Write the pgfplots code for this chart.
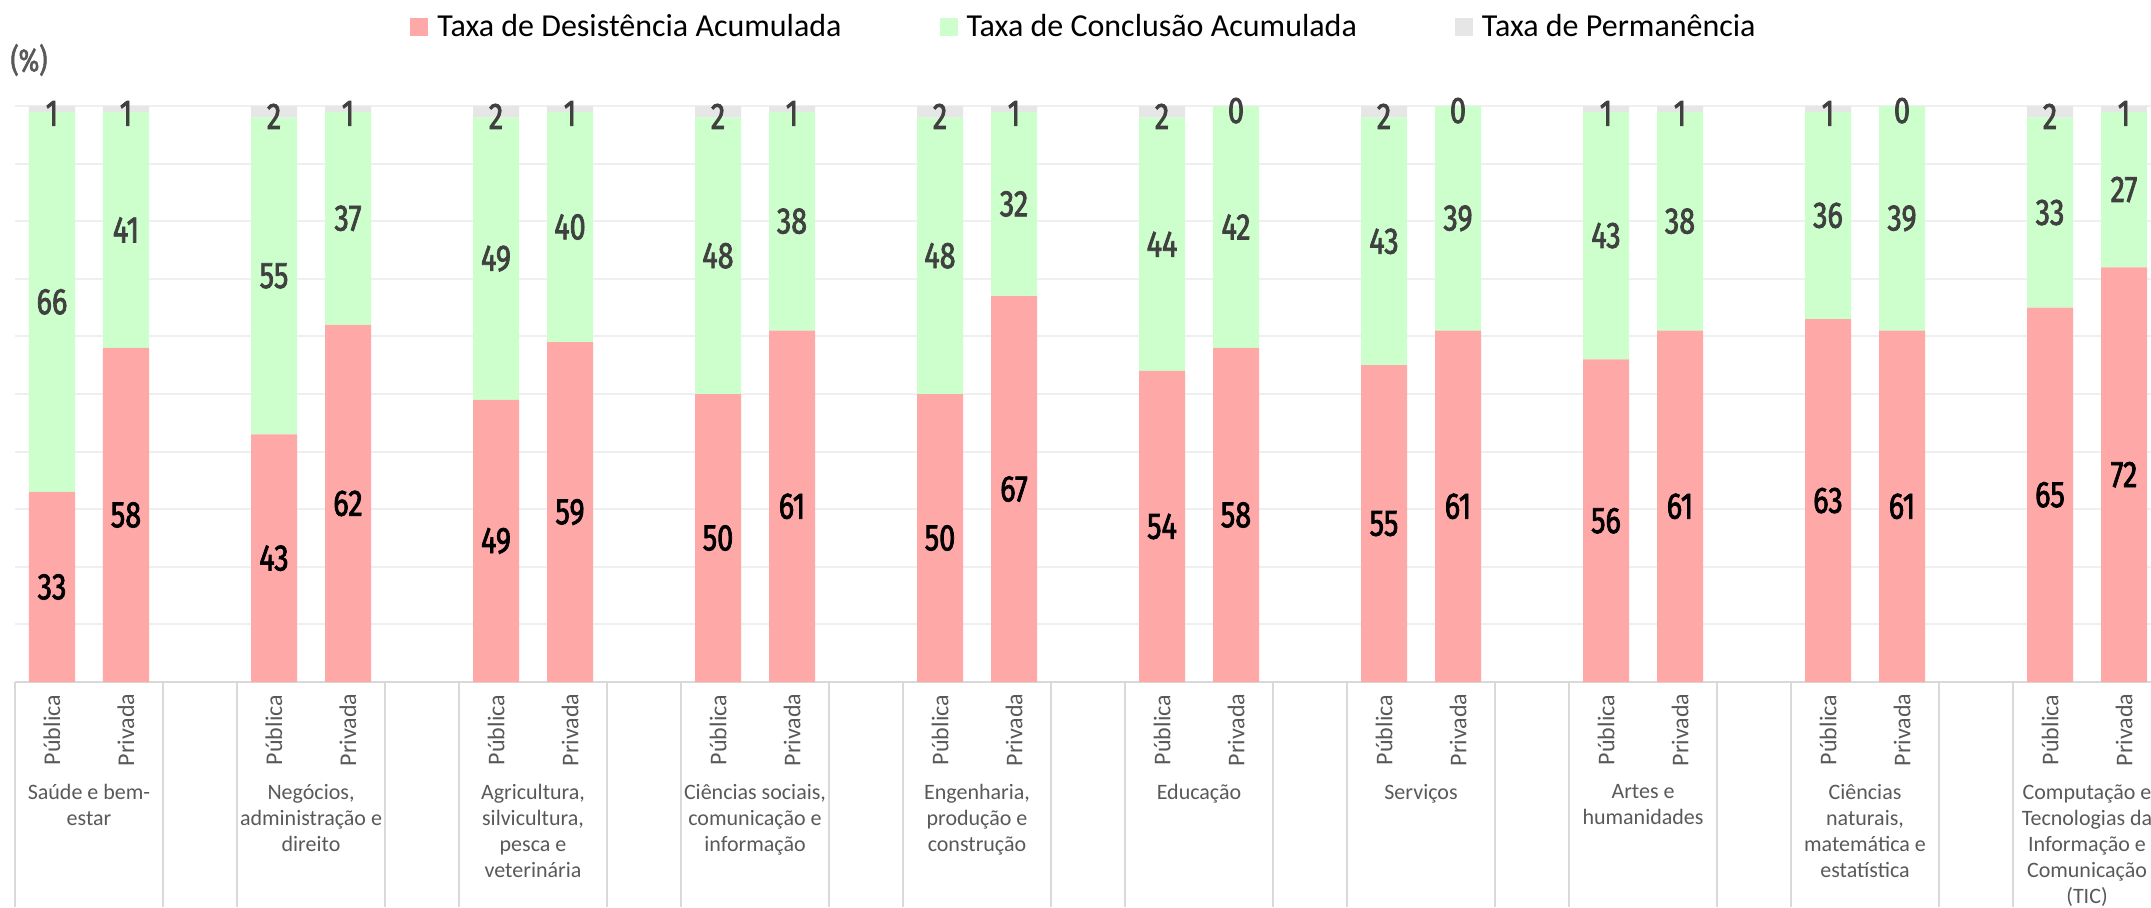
\documentclass[border=0pt]{standalone}
\usepackage{fontspec}
\setmainfont{Carlito}
\newfontfamily\numfont[FakeStretch=0.78,FakeBold=2]{Fira Sans}
\usepackage{pgfplots}
\usepackage{pgfplotstable}
\pgfplotsset{compat=1.18}
\definecolor{desc}{HTML}{FFA8A8}
\definecolor{conc}{HTML}{CCFFCC}
\definecolor{perm}{HTML}{E6E6E6}
\definecolor{gridc}{HTML}{EFEFEF}
\definecolor{axisc}{HTML}{D9D9D9}
\definecolor{labc}{HTML}{595959}
\definecolor{numc}{HTML}{404040}

\pgfplotstableread{
x d c p
0 33 66 1
1 58 41 1
3 43 55 2
4 62 37 1
6 49 49 2
7 59 40 1
9 50 48 2
10 61 38 1
12 50 48 2
13 67 32 1
15 54 44 2
16 58 42 0
18 55 43 2
19 61 39 0
21 56 43 1
22 61 38 1
24 63 36 1
25 61 39 0
27 65 33 2
28 72 27 1
}\data

\begin{document}
\begin{tikzpicture}
\path[use as bounding box] (-7.5pt,-112.5pt) rectangle (1068pt,341pt);
\pgfplotsset{base/.style={width=1068pt,height=288pt,scale only axis,
  xmin=-0.5,xmax=28.365,ymin=0,ymax=100,at={(0,0)},anchor=south west},
  leg/.style={legend image code/.code={\fill[##1] (0pt,-4.5pt) rectangle (9pt,4.5pt);}}}
\begin{axis}[base, ybar stacked, bar width=23pt,
  axis lines*=left,
  x axis line style={-, draw=axisc, line width=1pt},
  y axis line style={draw=none},
  xtick=\empty,
  ytick={0,10,...,100}, yticklabels={}, major tick length=0pt,
  ymajorgrids, grid style={draw=gridc, line width=1pt},
  legend columns=3,
  legend style={at={(0.5,1.137)}, anchor=center, draw=none, fill=none,
    font=\fontsize{16}{18}\selectfont,
    /tikz/every odd column/.append style={column sep=4.5pt},
    /tikz/every even column/.append style={column sep=49pt},
    nodes={inner sep=0pt}},
  legend cell align=left,
  clip=false]
\addplot[fill=desc, draw=none, leg] table[x=x,y=d]{\data};
\addlegendentry{Taxa de Desistência Acumulada}
\addplot[fill=conc, draw=none, leg] table[x=x,y=c]{\data};
\addlegendentry{Taxa de Conclusão Acumulada}
\addplot[fill=perm, draw=none, leg] table[x=x,y=p]{\data};
\addlegendentry{Taxa de Permanência}
\end{axis}
\begin{axis}[base, hide axis, clip=false,
  nodes near coords, nodes near coords align={center},
  point meta=explicit symbolic]
\addplot[draw=none, every node near coord/.style={font=\numfont\fontsize{18.5}{19}\selectfont, text=black, anchor=center}]
  table[x=x, y expr=\thisrow{d}/2, meta=d]{\data};
\addplot[draw=none, every node near coord/.style={font=\numfont\fontsize{18.5}{19}\selectfont, text=numc, anchor=center}]
  table[x=x, y expr=\thisrow{d}+\thisrow{c}/2, meta=c]{\data};
\addplot[draw=none, every node near coord/.style={font=\numfont\fontsize{18.5}{19}\selectfont, text=numc, anchor=center}]
  table[x=x, y expr=\thisrow{d}+\thisrow{c}+\thisrow{p}/2-0.8, meta=p]{\data};
\end{axis}
% category box separators
\foreach \g in {0,...,9} {
  \draw[axisc, line width=1pt] ({111pt*\g},0) -- ++(0,-112.5pt);
  \draw[axisc, line width=1pt] ({111pt*\g+74pt},0) -- ++(0,-112.5pt);
  \node[rotate=90, font=\fontsize{12}{13}\selectfont, text=labc] at ({111pt*\g+18.5pt},-24pt) {Pública};
  \node[rotate=90, font=\fontsize{12}{13}\selectfont, text=labc] at ({111pt*\g+55.5pt},-24pt) {Privada};
}
\begin{scope}[every node/.style={anchor=north, align=center, inner sep=0pt, font=\fontsize{11}{13}\selectfont, text=labc}]
\node at (37pt,-51pt) {Saúde e bem-\\estar};
\node at (148pt,-51pt) {Negócios,\\administração e\\direito};
\node at (259pt,-51pt) {Agricultura,\\silvicultura,\\pesca e\\veterinária};
\node at (370pt,-51pt) {Ciências sociais,\\comunicação e\\informação};
\node at (481pt,-51pt) {Engenharia,\\produção e\\construção};
\node at (592pt,-51pt) {Educação};
\node at (703pt,-51pt) {Serviços};
\node at (814pt,-51pt) {Artes e\\humanidades};
\node at (925pt,-51pt) {Ciências\\naturais,\\matemática e\\estatística};
\node at (1036pt,-51pt) {Computação e\\Tecnologias da\\Informação e\\Comunicação\\(TIC)};
\end{scope}
\node[font=\numfont\fontsize{16}{18}\selectfont, text=labc] at (7pt,311pt) {(\%)};
\end{tikzpicture}
\end{document}
